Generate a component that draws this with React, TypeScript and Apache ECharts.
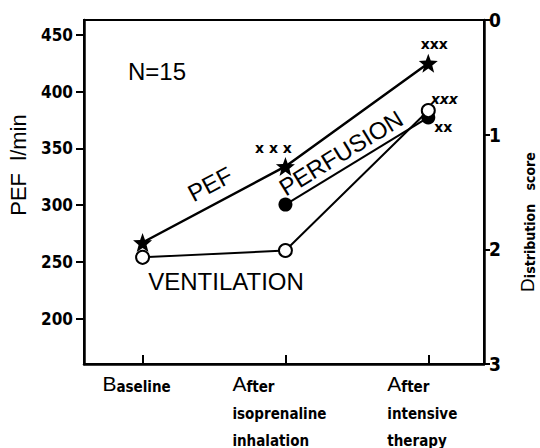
import React, { useEffect, useRef } from 'react';
import * as echarts from 'echarts';

const categories = ['Baseline', 'After\nisoprenaline\ninhalation', 'After\nintensive\ntherapy'];
const xPositions = [0, 1, 2];
const pefValues = [267, 334, 425];
const ventilationScores = [2.07, 2.01, 0.79];
const perfusionScores: (number | null)[] = [null, 1.61, 0.85];
const pefTicks = [200, 250, 300, 350, 400, 450];
const pefMarks = ['', 'x x x', 'xxx'];
const ventilationMarks = ['', '', 'xxx'];
const perfusionMarks = ['', '', 'xx'];

const pefMarkOffsets = [[0, 0], [-12, -18], [6, -19]];
const ventMarkOffsets = [[0, 0], [0, 0], [16, -12]];
const perfMarkOffsets = [[0, 0], [0, 0], [15, 10]];

const COND = '"DejaVu Sans Condensed", "Liberation Sans Narrow", "DejaVu Sans", sans-serif';
const SANS = '"Liberation Sans", Arial, Helvetica, sans-serif';
const STAR = 'path://M0,-10L2.47,-3.4L9.51,-3.09L3.99,1.3L5.88,8.09L0,4.2L-5.88,8.09L-3.99,1.3L-9.51,-3.09L-2.47,-3.4Z';

function markLabel(text: string, offset: number[], italic = false) {
  if (!text) return undefined;
  return {
    show: true,
    formatter: text,
    position: 'inside',
    offset,
    align: 'center',
    verticalAlign: 'middle',
    color: '#000',
    fontSize: 14,
    fontWeight: 'bold',
    fontStyle: italic ? 'italic' : 'normal',
    fontFamily: '"DejaVu Sans", sans-serif',
  };
}

export default function App() {
  const ref = useRef<HTMLDivElement>(null);
  useEffect(() => {
    document.body.style.margin = '0';
    const chart = echarts.init(ref.current!, null, { renderer: 'svg' });
    const axisLabelFormatter = (v: number) => {
      const txt = categories[Math.round(v)];
      if (txt === undefined) return '';
      return txt
        .split('\n')
        .map((ln, i) => (i === 0 ? `{big|${ln[0]}}{sm|${ln.slice(1)}}` : `{sm|${ln}}`))
        .join('\n');
    };
    chart.setOption({
      animation: false,
      backgroundColor: '#fff',
      grid: {
        left: 84,
        right: 56,
        top: 20,
        bottom: 84,
        show: true,
        borderColor: '#000',
        borderWidth: 2,
        outerBoundsMode: 'none',
      },
      xAxis: {
        type: 'value',
        min: -0.41,
        max: 2.39,
        splitLine: { show: false },
        axisLine: { show: true, onZero: false, lineStyle: { color: '#000', width: 2.5 } },
        axisTick: { show: true, inside: true, length: 9, customValues: xPositions, lineStyle: { color: '#000', width: 2 } },
        axisLabel: {
          customValues: xPositions,
          formatter: axisLabelFormatter,
          margin: 3,
          align: 'center',
          padding: [0, 12, 0, 0],
          rich: {
            big: { fontSize: 21, fontFamily: SANS, color: '#000', lineHeight: 27, align: 'left', verticalAlign: 'bottom' },
            sm: { fontSize: 15, fontFamily: COND, fontWeight: 'bold', color: '#000', lineHeight: 27, align: 'left', verticalAlign: 'bottom' },
          },
        },
      },
      yAxis: [
        {
          type: 'value',
          position: 'left',
          min: 160,
          max: 463,
          splitLine: { show: false },
          axisLine: { show: true, onZero: false, lineStyle: { color: '#000', width: 2.5 } },
          axisTick: { show: true, length: 8, customValues: pefTicks, lineStyle: { color: '#000', width: 2 } },
          axisLabel: {
            customValues: pefTicks,
            margin: 11,
            color: '#000',
            fontSize: 17,
            fontWeight: 'bold',
            fontFamily: COND,
          },
        },
        {
          type: 'value',
          position: 'right',
          inverse: true,
          min: 0,
          max: 3,
          interval: 1,
          splitLine: { show: false },
          axisLine: { show: true, onZero: false, lineStyle: { color: '#000', width: 2.5 } },
          axisTick: { show: true, length: 6, lineStyle: { color: '#000', width: 2 } },
          axisLabel: {
            margin: 5,
            color: '#000',
            fontSize: 19,
            fontWeight: 'bold',
            fontFamily: COND,
          },
        },
      ],
      series: [
        {
          name: 'Perfusion',
          type: 'line',
          yAxisIndex: 1,
          symbol: 'circle',
          symbolSize: 14,
          itemStyle: { color: '#000' },
          lineStyle: { color: '#000', width: 2 },
          z: 2,
          data: xPositions.map((x, i) => ({
            value: [x, perfusionScores[i]],
            label: markLabel(perfusionMarks[i], perfMarkOffsets[i]),
          })),
        },
        {
          name: 'Ventilation',
          type: 'line',
          yAxisIndex: 1,
          symbol: 'circle',
          symbolSize: 13,
          itemStyle: { color: '#fff', borderColor: '#000', borderWidth: 2 },
          lineStyle: { color: '#000', width: 2 },
          z: 3,
          data: xPositions.map((x, i) => ({
            value: [x, ventilationScores[i]],
            label: markLabel(ventilationMarks[i], ventMarkOffsets[i], true),
          })),
        },
        {
          name: 'PEF',
          type: 'line',
          yAxisIndex: 0,
          symbol: STAR,
          symbolSize: 19,
          itemStyle: { color: '#000' },
          lineStyle: { color: '#000', width: 2.5 },
          z: 4,
          data: xPositions.map((x, i) => ({
            value: [x, pefValues[i]],
            label: markLabel(pefMarks[i], pefMarkOffsets[i]),
          })),
        },
      ],
      graphic: [
        { type: 'text', x: 157, y: 71, style: { text: 'N=15', fontSize: 24, fontFamily: SANS, fill: '#000', align: 'center', verticalAlign: 'middle' } },
        { type: 'text', x: 210, y: 184, rotation: 0.49, style: { text: 'PEF', fontSize: 24, fontFamily: SANS, fill: '#000', align: 'center', verticalAlign: 'middle' } },
        { type: 'text', x: 341, y: 153, rotation: 0.55, style: { text: 'PERFUSION', fontSize: 24, fontFamily: SANS, fill: '#000', align: 'center', verticalAlign: 'middle' } },
        { type: 'text', x: 226, y: 281, style: { text: 'VENTILATION', fontSize: 24, fontFamily: SANS, fill: '#000', align: 'center', verticalAlign: 'middle' } },
        { type: 'text', x: 18, y: 165, rotation: Math.PI / 2, style: { text: 'PEF  l/min', fontSize: 22, fontFamily: SANS, fill: '#000', align: 'center', verticalAlign: 'middle' } },
        {
          type: 'text',
          x: 527,
          y: 222,
          rotation: Math.PI / 2,
          style: {
            text: '{D|D}{s|istribution}    {s|score}',
            align: 'center',
            verticalAlign: 'middle',
            rich: {
              D: { fontSize: 19, fontFamily: SANS, fill: '#000', color: '#000', verticalAlign: 'bottom' },
              s: { fontSize: 14, fontFamily: COND, fontWeight: 'bold', fill: '#000', color: '#000', verticalAlign: 'bottom' },
            },
          },
        },
      ],
    });
    return () => chart.dispose();
  }, []);
  return <div ref={ref} style={{ width: 540, height: 448 }} />;
}
